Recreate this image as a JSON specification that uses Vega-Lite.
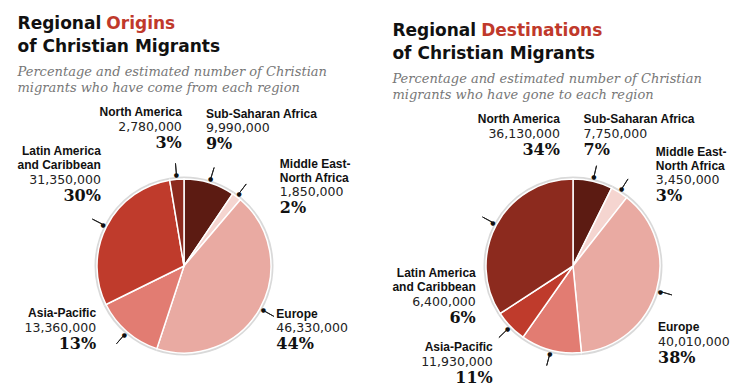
{
  "$schema": "https://vega.github.io/schema/vega-lite/v6.json",
  "background": "white",
  "padding": {"left": 17, "top": 14, "right": 5, "bottom": 2},
  "config": {"view": {"stroke": null}},
  "spacing": 41,
  "datasets": {
    "origins": [
      {"order": 1, "region": "Sub-Saharan Africa", "value": 9990000, "share": 0.09},
      {"order": 2, "region": "Middle East-\nNorth Africa", "value": 1850000, "share": 0.02},
      {"order": 3, "region": "Europe", "value": 46330000, "share": 0.44},
      {"order": 4, "region": "Asia-Pacific", "value": 13360000, "share": 0.13},
      {"order": 5, "region": "Latin America\nand Caribbean", "value": 31350000, "share": 0.30},
      {"order": 6, "region": "North America", "value": 2780000, "share": 0.03}
    ],
    "destinations": [
      {"order": 1, "region": "Sub-Saharan Africa", "value": 7750000, "share": 0.07},
      {"order": 2, "region": "Middle East-\nNorth Africa", "value": 3450000, "share": 0.03},
      {"order": 3, "region": "Europe", "value": 40010000, "share": 0.38},
      {"order": 4, "region": "Asia-Pacific", "value": 11930000, "share": 0.11},
      {"order": 5, "region": "Latin America\nand Caribbean", "value": 6400000, "share": 0.06},
      {"order": 6, "region": "North America", "value": 36130000, "share": 0.34}
    ]
  },
  "hconcat": [
    {
      "title": {
        "text": ["Regional", "of Christian Migrants"],
        "subtitle": "\u200b\u00a0\u00a0\u00a0\u00a0\u00a0\u00a0\u00a0\u00a0\u00a0\u00a0\u00a0\u00a0\u00a0\u00a0\u00a0Origins",
        "anchor": "start", "frame": "bounds", "offset": 10,
        "font": "DejaVu Sans", "fontSize": 17, "fontWeight": "bold", "color": "#111111", "lineHeight": 23,
        "subtitleFont": "DejaVu Sans", "subtitleFontSize": 17, "subtitleFontWeight": "bold", "subtitleColor": "#c0392b",
        "subtitlePadding": -40, "subtitleLineHeight": 23
      },
      "vconcat": [
        {
          "title": {
            "text": ["Percentage and estimated number of Christian", "migrants who have come from each region"],
            "anchor": "start", "frame": "bounds", "offset": 11,
            "font": "DejaVu Serif", "fontStyle": "italic", "fontWeight": "normal", "fontSize": 13, "lineHeight": 16.5, "color": "#777777"
          },
          "width": 300,
          "height": 200,
          "data": {"name": "origins"},
          "encoding": {
            "theta": {"field": "value", "type": "quantitative", "stack": true},
            "order": {"field": "order", "type": "quantitative"},
            "detail": {"field": "region", "type": "nominal"}
          },
          "layer": [
            {"mark": {"type": "arc", "outerRadius": 89.5, "fill": "#d9d9d9"}},
            {
              "mark": {"type": "arc", "outerRadius": 87, "stroke": "#ffffff", "strokeWidth": 1.5},
              "encoding": {
                "color": {
                  "field": "region", "type": "nominal", "legend": null,
                  "scale": {
                    "domain": ["Sub-Saharan Africa", "Middle East-\nNorth Africa", "Europe", "Asia-Pacific", "Latin America\nand Caribbean", "North America"],
                    "range": ["#5c1b12", "#f5d5d0", "#e9aaa2", "#e27c72", "#bf3b2c", "#8c2a1e"]
                  }
                }
              }
            },
            {
              "mark": {"type": "arc", "innerRadius": 92, "outerRadius": 103, "padAngle": 3, "fillOpacity": 0, "stroke": "#222222", "strokeWidth": 1}
            },
            {
              "mark": {"type": "text", "radius": 91, "fontSize": 6, "align": "center", "baseline": "middle", "fill": "#111111", "font": "DejaVu Sans"},
              "encoding": {"text": {"value": "●"}}
            },
            {
              "mark": {
                "type": "text", "radius": 99, "font": "Liberation Sans", "fontWeight": "bold", "fontSize": 12, "fill": "#111111",
                "baseline": "alphabetic", "lineBreak": "\n", "lineHeight": 14,
                "align": {"expr": "datum.order <= 3 ? 'left' : 'right'"},
                "dx": {"expr": "[0,-7,36,6,-23,5,6][datum.order]"},
                "dy": {"expr": "[0,-39,9,18,-9,-37,-36.5][datum.order] - 14.5 - (indexof(datum.region, '\\n') >= 0 ? 14 : 0)"}
              },
              "encoding": {"text": {"field": "region", "type": "nominal"}}
            },
            {
              "mark": {
                "type": "text", "radius": 99, "font": "DejaVu Sans", "fontSize": 12.5, "fill": "#222222", "baseline": "alphabetic",
                "align": {"expr": "datum.order <= 3 ? 'left' : 'right'"},
                "dx": {"expr": "[0,-7,36,6,-23,5,6][datum.order]"},
                "dy": {"expr": "[0,-39,9,18,-9,-37,-36.5][datum.order]"}
              },
              "encoding": {"text": {"field": "value", "type": "quantitative", "format": ","}}
            },
            {
              "mark": {
                "type": "text", "radius": 99, "font": "DejaVu Serif", "fontWeight": "bold", "fontSize": 16, "fill": "#111111", "baseline": "alphabetic",
                "align": {"expr": "datum.order <= 3 ? 'left' : 'right'"},
                "dx": {"expr": "[0,-7,36,6,-23,5,6][datum.order]"},
                "dy": {"expr": "[0,-39,9,18,-9,-37,-36.5][datum.order] + 17"}
              },
              "encoding": {"text": {"field": "share", "type": "quantitative", "format": ".0%"}}
            }
          ]
        }
      ]
    },
    {
      "title": {
        "text": ["Regional", "of Christian Migrants"],
        "subtitle": "\u200b\u00a0\u00a0\u00a0\u00a0\u00a0\u00a0\u00a0\u00a0\u00a0\u00a0\u00a0\u00a0\u00a0\u00a0\u00a0Destinations",
        "anchor": "start", "frame": "bounds", "offset": 10,
        "font": "DejaVu Sans", "fontSize": 17, "fontWeight": "bold", "color": "#111111", "lineHeight": 23,
        "subtitleFont": "DejaVu Sans", "subtitleFontSize": 17, "subtitleFontWeight": "bold", "subtitleColor": "#c0392b",
        "subtitlePadding": -40, "subtitleLineHeight": 23
      },
      "vconcat": [
        {
          "title": {
            "text": ["Percentage and estimated number of Christian", "migrants who have gone to each region"],
            "anchor": "start", "frame": "bounds", "offset": 11,
            "font": "DejaVu Serif", "fontStyle": "italic", "fontWeight": "normal", "fontSize": 13, "lineHeight": 16.5, "color": "#777777"
          },
          "width": 300,
          "height": 200,
          "data": {"name": "destinations"},
          "encoding": {
            "theta": {"field": "value", "type": "quantitative", "stack": true},
            "order": {"field": "order", "type": "quantitative"},
            "detail": {"field": "region", "type": "nominal"}
          },
          "layer": [
            {"mark": {"type": "arc", "outerRadius": 89.5, "fill": "#d9d9d9"}},
            {
              "mark": {"type": "arc", "outerRadius": 87, "stroke": "#ffffff", "strokeWidth": 1.5},
              "encoding": {
                "color": {
                  "field": "region", "type": "nominal", "legend": null,
                  "scale": {
                    "domain": ["Sub-Saharan Africa", "Middle East-\nNorth Africa", "Europe", "Asia-Pacific", "Latin America\nand Caribbean", "North America"],
                    "range": ["#5c1b12", "#f5d5d0", "#e9aaa2", "#e27c72", "#bf3b2c", "#8c2a1e"]
                  }
                }
              }
            },
            {
              "mark": {"type": "arc", "innerRadius": 92, "outerRadius": 103, "padAngle": 3, "fillOpacity": 0, "stroke": "#222222", "strokeWidth": 1}
            },
            {
              "mark": {"type": "text", "radius": 91, "fontSize": 6, "align": "center", "baseline": "middle", "fill": "#111111", "font": "DejaVu Sans"},
              "encoding": {"text": {"value": "●"}}
            },
            {
              "mark": {
                "type": "text", "radius": 99, "font": "Liberation Sans", "fontWeight": "bold", "fontSize": 12, "fill": "#111111",
                "baseline": "alphabetic", "lineBreak": "\n", "lineHeight": 14,
                "align": {"expr": "datum.order <= 3 ? 'left' : 'right'"},
                "dx": {"expr": "[0,-12,30,-10,-55,-26,74][datum.order]"},
                "dy": {"expr": "[0,-32,2,52,4,-29,-81][datum.order] - 14.5 - (indexof(datum.region, '\\n') >= 0 ? 14 : 0)"}
              },
              "encoding": {"text": {"field": "region", "type": "nominal"}}
            },
            {
              "mark": {
                "type": "text", "radius": 99, "font": "DejaVu Sans", "fontSize": 12.5, "fill": "#222222", "baseline": "alphabetic",
                "align": {"expr": "datum.order <= 3 ? 'left' : 'right'"},
                "dx": {"expr": "[0,-12,30,-10,-55,-26,74][datum.order]"},
                "dy": {"expr": "[0,-32,2,52,4,-29,-81][datum.order]"}
              },
              "encoding": {"text": {"field": "value", "type": "quantitative", "format": ","}}
            },
            {
              "mark": {
                "type": "text", "radius": 99, "font": "DejaVu Serif", "fontWeight": "bold", "fontSize": 16, "fill": "#111111", "baseline": "alphabetic",
                "align": {"expr": "datum.order <= 3 ? 'left' : 'right'"},
                "dx": {"expr": "[0,-12,30,-10,-55,-26,74][datum.order]"},
                "dy": {"expr": "[0,-32,2,52,4,-29,-81][datum.order] + 17"}
              },
              "encoding": {"text": {"field": "share", "type": "quantitative", "format": ".0%"}}
            }
          ]
        }
      ]
    }
  ]
}
